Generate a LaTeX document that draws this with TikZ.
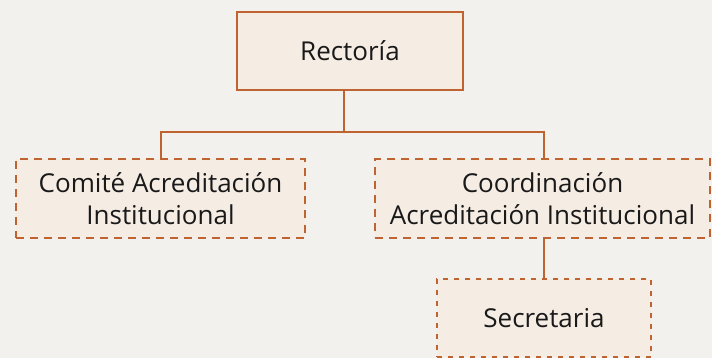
\documentclass[tikz,border=0pt]{standalone}
\usepackage{fontspec}
\setmainfont{Open Sans}
\definecolor{fondo}{HTML}{F2F1ED}
\definecolor{caja}{HTML}{F5ECE3}
\definecolor{borde}{HTML}{BF6430}
\tikzset{
  unidad/.style={draw=borde,fill=caja,line width=2pt,inner sep=0pt,
    minimum height=78pt,align=center,text=black!90,font=\fontsize{26}{31.5}\selectfont},
  apoyo/.style={unidad,dash pattern=on 8pt off 6pt},
  auxiliar/.style={unidad,line width=1.5pt,dash pattern=on 5pt off 6pt},
  linea/.style={draw=borde,line width=2pt}
}
\begin{document}
\begin{tikzpicture}[x=1pt,y=-1pt]
  \fill[fondo] (0,0) rectangle (712,358);
  \useasboundingbox (0,0) rectangle (712,358);

  \node[unidad,minimum width=226pt] (rectoria) at (350,51) {Rectoría};
  \node[apoyo,minimum width=289pt] (comite) at (160.5,198.5) {Comité Acreditación\\Institucional};
  \node[apoyo,minimum width=335pt] (coord) at (542.5,198.5) {Coordinación\\Acreditación Institucional};
  \node[auxiliar,minimum width=214pt] (secre) at (544,318) {Secretaria};

  \coordinate (bus) at (344,132);
  \coordinate (busL) at (160.5,132);
  \coordinate (busR) at (544,132);

  \draw[linea] (rectoria.south -| bus) -- (bus);
  \draw[linea] (comite.north -| busL) -- (busL) -- (busR) -- (coord.north -| busR);
  \draw[linea] (coord.south -| busR) -- (secre.north -| busR);
\end{tikzpicture}
\end{document}
